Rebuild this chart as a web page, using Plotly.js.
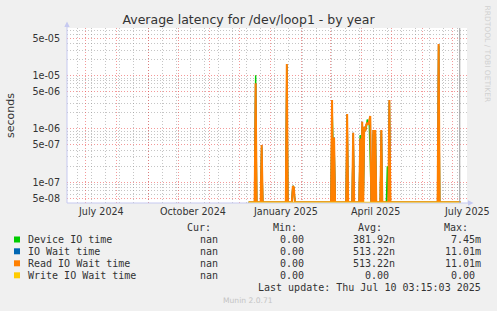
<!DOCTYPE html>
<html><head><meta charset="utf-8">
<script src="https://cdn.plot.ly/plotly-3.0.1.min.js"></script>
<style>html,body{margin:0;padding:0;background:#f0f0f0;}#chart{width:497px;height:311px;}</style>
</head><body><div id="chart"></div>
<script>
// ---------------- data ----------------
const spikeDates = ['2024-12-17','2024-12-23','2025-01-17','2025-01-23','2025-01-24',
  '2025-03-03','2025-03-04','2025-03-05','2025-03-18','2025-03-24','2025-03-31',
  '2025-04-02','2025-04-04','2025-04-05','2025-04-06','2025-04-07','2025-04-08','2025-04-09','2025-04-10',
  '2025-04-13','2025-04-15','2025-04-21','2025-04-27','2025-04-29','2025-06-17'];
const deviceVals = [1.02e-5,4.5e-7,1.5e-5,8.5e-8,8.0e-8,
  3.0e-6,4.4e-7,6.0e-7,1.8e-6,8.0e-7,7.7e-7,
  1.1e-6,9.0e-7,1.0e-6,1.0e-6,1.5e-6,1.3e-6,1.2e-6,2.5e-7,
  8.0e-7,9.0e-7,9.0e-7,2.0e-7,3.2e-6,3.6e-5];
const ioWaitVals = [7.2e-6,5.0e-7,1.65e-5,8.5e-8,8.0e-8,
  3.5e-6,0,6.9e-7,1.9e-6,8.5e-7,6.6e-7,
  1.36e-6,1.1e-6,9.0e-7,1.2e-6,1.3e-6,1.2e-6,1.4e-6,1.74e-6,
  9.5e-7,9.5e-7,9.5e-7,0,3.5e-6,3.9e-5];
const readVals = [7.2e-6,5.0e-7,1.65e-5,8.5e-8,8.0e-8,
  3.5e-6,0,6.9e-7,1.9e-6,8.5e-7,6.6e-7,
  1.36e-6,1.1e-6,9.0e-7,1.2e-6,1.3e-6,1.2e-6,1.4e-6,1.74e-6,
  9.5e-7,9.5e-7,9.5e-7,0,3.5e-6,3.9e-5];
const writeVals = [0,0,0,0,0, 0,0,0,0,0,0, 0,0,0,0,0,0,0,0, 0,0,0,0,0,0];
const dataStart = '2024-12-10';
const dataEnd = '2025-07-09';
const nowMarker = '2025-07-08';
const xStart = '2024-06-12 09:00';
const xEnd = '2025-07-15 05:00';
const monthStarts = ['2024-07-01','2024-08-01','2024-09-01','2024-10-01','2024-11-01','2024-12-01',
  '2025-01-01','2025-02-01','2025-03-01','2025-04-01','2025-05-01','2025-06-01','2025-07-01'];
const xLabelDates = ['2024-07-16','2024-10-16','2025-01-16','2025-04-15','2025-07-15'];
const xLabels = ['July 2024','October 2024','January 2025','April 2025','July 2025'];
const yTickVals = [5e-8,1e-7,5e-7,1e-6,5e-6,1e-5,5e-5];
const yTickLabels = ['5e-08','1e-07','5e-07','1e-06','5e-06','1e-05','5e-05'];
const yMinorVals = [2e-8,3e-8,4e-8,6e-8,7e-8,8e-8,9e-8,2e-7,3e-7,4e-7,6e-7,7e-7,8e-7,9e-7,
  2e-6,3e-6,4e-6,6e-6,7e-6,8e-6,9e-6,2e-5,3e-5,4e-5,6e-5,7e-5,8e-5,9e-5];
const seriesNames = ['Device IO time','IO Wait time','Read IO Wait time','Write IO Wait time'];
const seriesColors = ['#00CC00','#0066B3','#FF8000','#FFCC00'];
const legendCur = ['nan','nan','nan','nan'];
const legendMin = ['0.00','0.00','0.00','0.00'];
const legendAvg = ['381.92n','513.22n','513.22n','0.00'];
const legendMax = ['7.45m','11.01m','11.01m','0.00'];
const legendHeaders = ['Cur:','Min:','Avg:','Max:'];
const lastUpdate = 'Last update: Thu Jul 10 03:15:03 2025';

// ---------------- geometry ----------------
const W = 497, H = 311, L = 67, R = 467, T = 28, B = 203;
const yRange = [-7.39, -4.107];
const floorVal = Math.pow(10, yRange[0] + 0.012); // zero drawn on the bottom edge (log axis)
const px = x => (x - L) / (R - L);
const py = y => (B - y) / (B - T);
const DAY = 86400000;

function buildDaily(vals) {
  const map = {};
  spikeDates.forEach((d, i) => { map[d] = vals[i]; });
  const xs = [], ys = [];
  const end = Date.parse(dataEnd + 'T00:00:00Z');
  for (let t = Date.parse(dataStart + 'T00:00:00Z'); t <= end; t += DAY) {
    const d = new Date(t).toISOString().slice(0, 10);
    const v = map[d] || 0;
    xs.push(d); ys.push(v > 0 ? v : floorVal);
  }
  return { xs, ys };
}

// minor (bi-weekly) vertical grid positions
const minorX = [];
for (let t = Date.parse('2024-06-23T00:00:00Z'); t <= Date.parse('2025-07-15T00:00:00Z'); t += 14 * DAY) {
  minorX.push(new Date(t).toISOString().slice(0, 10));
}

const allVals = [deviceVals, ioWaitVals, readVals, writeVals];
const widths = [1.4, 1.4, 2.0, 1.2];
const traces = allVals.map((vals, i) => {
  const s = buildDaily(vals);
  return { type: 'scatter', mode: 'lines', x: s.xs, y: s.ys, name: seriesNames[i],
    line: { color: seriesColors[i], width: widths[i] }, hoverinfo: 'skip', showlegend: false };
});

const redGrid = 'rgba(235,70,70,0.55)';
const grayGrid = 'rgba(140,140,140,0.5)';
const axisCol = '#c6c9f0';
const dash = '1px,2px';

const shapes = [
  { type: 'line', xref: 'x', yref: 'paper', x0: nowMarker, x1: nowMarker, y0: 0, y1: 1,
    line: { color: '#999999', width: 1 } },
  { type: 'path', xref: 'paper', yref: 'paper', fillcolor: axisCol, line: { width: 0 },
    path: `M ${px(64.3)} ${py(27)} L ${px(69.7)} ${py(27)} L ${px(67)} ${py(21.5)} Z` },
  { type: 'path', xref: 'paper', yref: 'paper', fillcolor: axisCol, line: { width: 0 },
    path: `M ${px(468)} ${py(200.3)} L ${px(468)} ${py(205.7)} L ${px(473.5)} ${py(203)} Z` },
  { type: 'line', xref: 'paper', yref: 'paper', x0: px(67), x1: px(67), y0: py(203), y1: py(26),
    line: { color: axisCol, width: 1 } },
  { type: 'line', xref: 'paper', yref: 'paper', x0: px(67), x1: px(469), y0: py(203), y1: py(203),
    line: { color: axisCol, width: 1 } }
];

const rowY = [239.5, 251.3, 263.3, 275.3];
const annotations = [];
const mono = 'DejaVu Sans Mono';
const txt = '#333333';
xLabelDates.forEach((d, i) => annotations.push({ xref: 'x', yref: 'paper', x: d, y: py(211.7),
  text: xLabels[i], showarrow: false, xanchor: 'center', yanchor: 'middle',
  font: { family: 'DejaVu Sans', size: 9.6, color: txt } }));
const headerRight = [213, 298.7, 384, 470];
legendHeaders.forEach((h, i) => annotations.push({ xref: 'paper', yref: 'paper', x: px(headerRight[i]), y: py(227.5),
  text: h, showarrow: false, xanchor: 'right', yanchor: 'middle', font: { family: mono, size: 10, color: txt } }));
const colRight = [220, 306, 397.3, 483.3];
const suffixed = v => /[a-zA-Z]$/.test(v) && v !== 'nan';
seriesNames.forEach((n, i) => {
  shapes.push({ type: 'rect', xref: 'paper', yref: 'paper', x0: px(14), x1: px(20), y0: py(rowY[i] - 3), y1: py(rowY[i] + 3),
    fillcolor: seriesColors[i], line: { width: 0 } });
  annotations.push({ xref: 'paper', yref: 'paper', x: px(26), y: py(rowY[i]), text: n, showarrow: false,
    xanchor: 'left', yanchor: 'middle', font: { family: mono, size: 10, color: txt } });
  [legendCur[i], legendMin[i], legendAvg[i], legendMax[i]].forEach((v, c) => {
    let xr = colRight[c];
    if (c >= 2 && !suffixed(v)) xr -= 6.3;
    annotations.push({ xref: 'paper', yref: 'paper', x: px(xr), y: py(rowY[i]), text: v, showarrow: false,
      xanchor: 'right', yanchor: 'middle', font: { family: mono, size: 10, color: txt } });
  });
});
annotations.push({ xref: 'paper', yref: 'paper', x: px(483), y: py(287.5), text: lastUpdate, showarrow: false,
  xanchor: 'right', yanchor: 'middle', font: { family: mono, size: 10, color: txt } });
annotations.push({ xref: 'paper', yref: 'paper', x: px(248), y: py(300), text: 'Munin 2.0.71', showarrow: false,
  xanchor: 'center', yanchor: 'middle', font: { family: 'DejaVu Sans', size: 7.6, color: '#c4c4c4' } });
annotations.push({ xref: 'paper', yref: 'paper', x: px(487), y: py(53.5), text: 'RRDTOOL / TOBI OETIKER', showarrow: false,
  textangle: 90, xanchor: 'center', yanchor: 'middle', font: { family: 'DejaVu Sans', size: 7.5, color: '#d0d0d0' } });

const layout = {
  width: W, height: H, margin: { l: L, r: W - R, t: T, b: H - B, pad: 0 },
  paper_bgcolor: '#f0f0f0', plot_bgcolor: '#ffffff', showlegend: false,
  font: { family: 'DejaVu Sans', size: 10, color: txt },
  title: { text: 'Average latency for /dev/loop1 - by year', font: { family: 'DejaVu Sans', size: 12.5, color: txt },
    x: 0.5, xref: 'container', xanchor: 'center', y: 1 - 20 / H, yref: 'container', yanchor: 'middle' },
  xaxis: { type: 'date', range: [xStart, xEnd], tickmode: 'array', tickvals: monthStarts, showticklabels: false,
    ticks: '', showgrid: true, gridcolor: redGrid, griddash: dash, gridwidth: 1, showline: false, zeroline: false,
    minor: { tickmode: 'array', tickvals: minorX, showgrid: true, gridcolor: grayGrid,
      griddash: dash, gridwidth: 1, ticks: '' }, fixedrange: true },
  yaxis: { type: 'log', range: yRange, tickmode: 'array', tickvals: yTickVals, ticktext: yTickLabels,
    tickfont: { family: 'DejaVu Sans', size: 9.6, color: txt }, ticks: 'outside', ticklen: 4, tickcolor: 'rgba(0,0,0,0)',
    showgrid: true, gridcolor: redGrid, griddash: dash, gridwidth: 1, showline: false, zeroline: false,
    minor: { tickmode: 'array', tickvals: yMinorVals, showgrid: true, gridcolor: grayGrid, griddash: dash, gridwidth: 1, ticks: '' },
    title: { text: 'seconds', font: { family: 'DejaVu Sans', size: 11, color: txt }, standoff: 15 }, fixedrange: true },
  shapes: shapes, annotations: annotations
};

Plotly.newPlot('chart', traces, layout, { displayModeBar: false, staticPlot: true });
</script></body></html>
